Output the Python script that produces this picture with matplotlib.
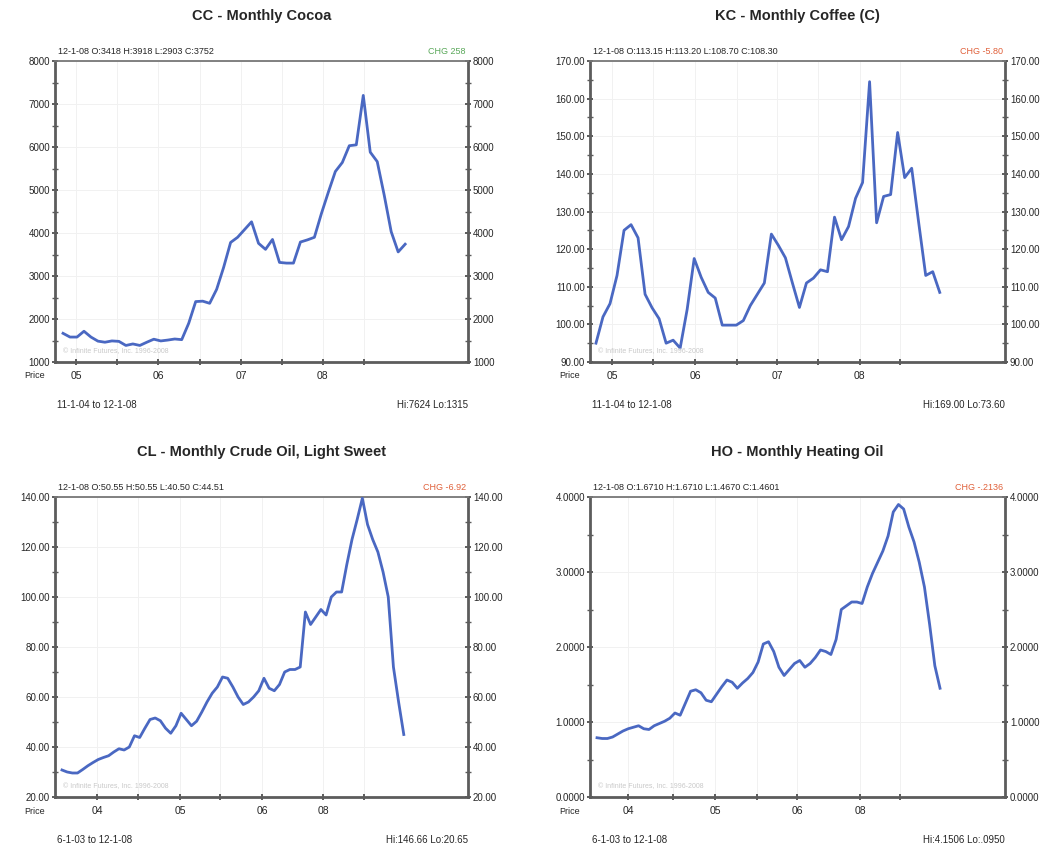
import matplotlib
matplotlib.use('Agg')
import matplotlib.pyplot as plt
from matplotlib.ticker import MultipleLocator, FixedLocator, FuncFormatter

# look of the old futures-chart printout
LINE = '#4a68c2'
SPINE = '#5c5c5c'
TEXT = '#262626'
FAINT = '#c9c9c9'
W, H = 1060, 851

plt.rcParams.update({
    'font.family': ['Liberation Sans', 'DejaVu Sans'],
    'font.size': 7,
    'text.color': TEXT,
    'xtick.color': SPINE,
    'ytick.color': SPINE,
    'xtick.labelcolor': TEXT,
    'ytick.labelcolor': TEXT,
})

# monthly closes
cocoa = [1667, 1580, 1580, 1715, 1580, 1485, 1460, 1490, 1480, 1385,
         1420, 1385, 1460, 1530, 1490, 1510, 1535, 1520, 1900, 2405,
         2415, 2365, 2690, 3200, 3780, 3900, 4080, 4260, 3760, 3620,
         3850, 3316, 3300, 3300, 3790, 3840, 3900, 4450, 4950, 5430,
         5640, 6030, 6050, 7200, 5880, 5660, 4880, 4030, 3560, 3740]

coffee = [95.0, 102.0, 105.5, 113.0, 125.0, 126.5, 123.0, 108.0, 104.4, 101.5,
          95.0, 95.8, 93.7, 104.0, 117.5, 112.5, 108.5, 107.0, 99.8, 99.8,
          99.8, 101.0, 105.0, 108.0, 111.0, 124.0, 121.0, 117.7, 111.0, 104.5,
          111.0, 112.3, 114.5, 114.0, 128.5, 122.5, 126.0, 133.5, 137.7, 164.5,
          127.0, 134.0, 134.5, 151.0, 139.0, 141.5, 127.0, 113.0, 114.0, 108.5]

crude = [30.8, 30.0, 29.6, 29.6, 31.0, 32.5, 33.8, 35.0, 35.8, 36.5,
         38.0, 39.3, 38.8, 40.0, 44.5, 43.8, 47.5, 51.0, 51.6, 50.5,
         47.5, 45.5, 48.5, 53.5, 51.0, 48.5, 50.3, 54.0, 58.0, 61.5,
         64.0, 68.0, 67.5, 64.0, 60.0, 57.0, 58.0, 60.0, 62.5, 67.5,
         63.5, 62.5, 65.0, 70.0, 71.0, 71.0, 72.0, 94.0, 89.0, 92.0,
         95.0, 92.8, 100.0, 102.0, 102.0, 113.0, 123.0, 131.0, 139.5, 129.0,
         123.0, 118.0, 110.0, 100.0, 72.0, 58.0, 45.0]

heating = [0.79, 0.78, 0.78, 0.80, 0.84, 0.88, 0.91, 0.93, 0.95, 0.91,
           0.90, 0.95, 0.98, 1.01, 1.05, 1.12, 1.09, 1.25, 1.41, 1.43,
           1.39, 1.29, 1.27, 1.37, 1.47, 1.56, 1.53, 1.45, 1.52, 1.58,
           1.66, 1.80, 2.04, 2.07, 1.94, 1.73, 1.62, 1.70, 1.78, 1.82,
           1.73, 1.78, 1.86, 1.96, 1.94, 1.90, 2.10, 2.50, 2.55, 2.60,
           2.60, 2.58, 2.80, 2.98, 3.13, 3.28, 3.48, 3.80, 3.90, 3.84,
           3.60, 3.40, 3.13, 2.80, 2.30, 1.75, 1.45]

titles = ['CC - Monthly Cocoa', 'KC - Monthly Coffee (C)',
          'CL - Monthly Crude Oil, Light Sweet', 'HO - Monthly Heating Oil']
headers = ['12-1-08 O:3418 H:3918 L:2903 C:3752',
           '12-1-08 O:113.15 H:113.20 L:108.70 C:108.30',
           '12-1-08 O:50.55 H:50.55 L:40.50 C:44.51',
           '12-1-08 O:1.6710 H:1.6710 L:1.4670 C:1.4601']
changes = ['CHG 258', 'CHG -5.80', 'CHG -6.92', 'CHG -.2136']
change_colors = ['#5aa85a', '#e0603a', '#e0603a', '#e0603a']
ranges = ['11-1-04 to 12-1-08', '11-1-04 to 12-1-08',
          '6-1-03 to 12-1-08', '6-1-03 to 12-1-08']
hilo = ['Hi:7624 Lo:1315', 'Hi:169.00 Lo:73.60',
        'Hi:146.66 Lo:20.65', 'Hi:4.1506 Lo:.0950']
year_labels = [['05', '', '06', '', '07', '', '08', ''],
               ['05', '', '06', '', '07', '', '08', ''],
               ['04', '', '05', '', '06', '08', ''],
               ['04', '', '05', '', '06', '08', '']]

# layout: axes box in pixels (left, top, right, bottom), x range and tick spots in month index
panels = [
    dict(box=(55, 61, 468, 362), xlim=(-1.15, 58.0), ylim=(1000, 8000), major=1000, minor=500, fmt='{:.0f}',
         xt=[1.9, 7.7, 13.6, 19.6, 25.5, 31.4, 37.2, 43.1]),
    dict(box=(590, 61, 1005, 362), xlim=(-0.85, 58.3), ylim=(90, 170), major=10, minor=5, fmt='{:.2f}',
         xt=[2.3, 8.1, 14.1, 20.1, 25.8, 31.6, 37.6, 43.3]),
    dict(box=(55, 497, 468, 797), xlim=(-1.35, 78.4), ylim=(20, 140), major=20, minor=10, fmt='{:.2f}',
         xt=[6.8, 14.7, 22.8, 30.5, 38.6, 50.4, 58.3]),
    dict(box=(590, 497, 1005, 797), xlim=(-1.35, 78.5), ylim=(0, 4), major=1, minor=0.5, fmt='{:.4f}',
         xt=[6.0, 14.6, 22.7, 30.8, 38.5, 50.6, 58.3]),
]
series = [cocoa, coffee, crude, heating]

fig = plt.figure(figsize=(W / 100, H / 100), dpi=100)
fig.patch.set_facecolor('white')


def fx(px):
    return px / W


def fy(py):
    return 1 - py / H


for i, p in enumerate(panels):
    l, t, r, b = p['box']
    ax = fig.add_axes([fx(l), fy(b), (r - l) / W, (b - t) / H])
    vals = series[i]
    ax.plot(range(len(vals)), vals, color=LINE, lw=2.0, solid_joinstyle='round', zorder=3)

    ax.set_xlim(*p['xlim'])
    ax.set_ylim(*p['ylim'])
    ax.yaxis.set_major_locator(MultipleLocator(p['major']))
    ax.yaxis.set_minor_locator(MultipleLocator(p['minor']))
    ax.yaxis.set_major_formatter(FuncFormatter(lambda v, pos, f=p['fmt']: f.format(v)))
    ax.xaxis.set_major_locator(FixedLocator(p['xt']))
    ax.set_xticklabels(year_labels[i])

    ax.tick_params(axis='y', which='both', left=True, right=True, labelleft=True, labelright=True,
                   direction='inout', labelsize=7, pad=1)
    ax.tick_params(axis='y', which='major', length=5, width=1.4)
    ax.tick_params(axis='y', which='minor', length=4, width=1.0)
    ax.tick_params(axis='x', which='major', direction='inout', length=5, width=1.4, labelsize=7.5, pad=4)

    for side in ['left', 'right', 'bottom']:
        ax.spines[side].set_linewidth(2.0)
        ax.spines[side].set_color(SPINE)
    ax.spines['top'].set_linewidth(1.3)
    ax.spines['top'].set_color('#777777')

    ax.grid(True, which='major', color='#f1f1f1', lw=0.7, zorder=0)

    ax.text(0.02, 0.035, '\u00a9 Infinite Futures, Inc. 1996-2008', transform=ax.transAxes,
            fontsize=5, color=FAINT, ha='left', va='center')

    cx = (l + r) / 2
    fig.text(fx(cx), fy(t - 45), titles[i], ha='center', va='center', fontsize=10.5, fontweight='bold')
    fig.text(fx(l + 3), fy(t - 9), headers[i], ha='left', va='center', fontsize=6.5)
    fig.text(fx(r - 2), fy(t - 9), changes[i], ha='right', va='center', fontsize=6.5, color=change_colors[i])
    fig.text(fx(l - 20), fy(b + 14), 'Price', ha='center', va='center', fontsize=6.5)
    fig.text(fx(l + 2), fy(b + 43), ranges[i], ha='left', va='center', fontsize=7)
    fig.text(fx(r), fy(b + 43), hilo[i], ha='right', va='center', fontsize=7)

fig.savefig('out.png', dpi=100, facecolor='white')
